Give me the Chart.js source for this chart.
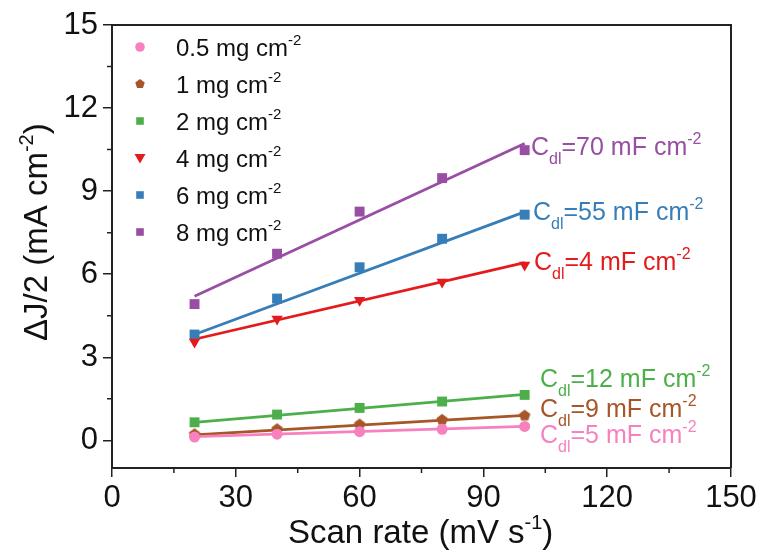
<!DOCTYPE html>
<html><head><meta charset="utf-8">
<script src="https://cdn.jsdelivr.net/npm/chart.js@4.4.0/dist/chart.umd.min.js"></script>
<style>html,body{margin:0;padding:0;background:#fff}#wrap{width:765px;height:556px}</style>
</head><body><div id="wrap"><canvas id="c" width="765" height="556"></canvas></div>
<script>
// ---- data ----
const scanRates = [20, 40, 60, 80, 100];
const loadingLabels = ['0.5', '1', '2', '4', '6', '8'];
const j05 = [0.12, 0.22, 0.31, 0.40, 0.50];
const j1  = [0.22, 0.40, 0.57, 0.74, 0.89];
const j2  = [0.65, 0.93, 1.17, 1.40, 1.64];
const j4  = [3.55, 4.38, 5.06, 5.72, 6.33];
const j6  = [3.82, 5.12, 6.25, 7.28, 8.15];
const j8  = [4.92, 6.74, 8.26, 9.47, 10.48];
const fitX = [20, 100];
const fitStart = [0.13, 0.20, 0.65, 3.65, 3.82, 5.20];
const fitEnd   = [0.50, 0.90, 1.66, 6.42, 8.25, 10.72];
const cdlValues = ['5', '9', '12', '4', '55', '70'];
const xTicks = [0, 30, 60, 90, 120, 150];
const xMinorTicks = [15, 45, 75, 105, 135];
const yTicks = [0, 3, 6, 9, 12, 15];
const yMinorTicks = [1.5, 4.5, 7.5, 10.5, 13.5];

const seriesValues = [j05, j1, j2, j4, j6, j8];
const colors = ['#f781bf', '#a65628', '#4daf4a', '#e41a1c', '#377eb8', '#984ea3'];
const FONT = '"Liberation Sans", Arial, Helvetica, sans-serif';

function pentagon(r, color) {
  const s = Math.ceil(2 * r + 2);
  const c = document.createElement('canvas');
  c.width = s; c.height = s;
  const g = c.getContext('2d');
  g.fillStyle = color;
  g.beginPath();
  for (let i = 0; i < 5; i++) {
    const a = -Math.PI / 2 + i * 2 * Math.PI / 5;
    const px = s / 2 + r * Math.cos(a), py = s / 2 + r * Math.sin(a);
    if (i) g.lineTo(px, py); else g.moveTo(px, py);
  }
  g.closePath(); g.fill();
  return c;
}
const pointStyles = ['circle', pentagon(6, colors[1]), 'rect', 'triangle', 'rect', 'rect'];
const pointRot = [0, 0, 0, 180, 0, 0];
const pointRad = [5.5, 6, 7, 6.5, 7, 7];

const datasets = [];
seriesValues.forEach((vals, i) => {
  datasets.push({
    type: 'line',
    label: 'fit ' + loadingLabels[i],
    data: fitX.map((x, k) => ({ x, y: k === 0 ? fitStart[i] : fitEnd[i] })),
    borderColor: colors[i], borderWidth: 2.8, pointRadius: 0, fill: false, order: 2
  });
  datasets.push({
    type: 'scatter',
    label: loadingLabels[i] + ' mg cm-2',
    data: scanRates.map((x, k) => ({ x, y: vals[k] })),
    backgroundColor: colors[i], borderColor: colors[i], borderWidth: 0,
    pointStyle: pointStyles[i], rotation: pointRot[i], pointRadius: pointRad[i], order: 1
  });
});

function rich(ctx, x, y, parts, color) {
  ctx.save();
  ctx.fillStyle = color; ctx.textBaseline = 'alphabetic'; ctx.textAlign = 'left';
  for (const p of parts) {
    ctx.font = p.s + 'px ' + FONT;
    ctx.fillText(p.t, x, y + (p.dy || 0));
    x += ctx.measureText(p.t).width;
  }
  ctx.restore();
}

function legendMarker(ctx, i, x, y) {
  ctx.save();
  ctx.fillStyle = colors[i];
  ctx.beginPath();
  if (i === 0) { ctx.arc(x, y, 4.8, 0, Math.PI * 2); }
  else if (i === 1) {
    for (let k = 0; k < 5; k++) {
      const a = -Math.PI / 2 + k * 2 * Math.PI / 5;
      const px = x + 5 * Math.cos(a), py = y + 5 * Math.sin(a);
      if (k) ctx.lineTo(px, py); else ctx.moveTo(px, py);
    }
    ctx.closePath();
  } else if (i === 3) {
    ctx.moveTo(x - 5.5, y - 4); ctx.lineTo(x + 5.5, y - 4); ctx.lineTo(x, y + 5.5); ctx.closePath();
  } else { ctx.rect(x - 3.8, y - 3.8, 7.6, 7.6); }
  ctx.fill();
  ctx.restore();
}

const decor = {
  id: 'decor',
  afterDraw(chart) {
    const ctx = chart.ctx, a = chart.chartArea;
    const xs = chart.scales.x, ys = chart.scales.y;
    ctx.save();
    ctx.strokeStyle = '#222'; ctx.lineWidth = 2;
    ctx.beginPath();
    ctx.moveTo(a.left, a.top); ctx.lineTo(a.right, a.top); ctx.lineTo(a.right, a.bottom);
    ctx.stroke();
    ctx.lineWidth = 1.5;
    ctx.beginPath();
    xMinorTicks.forEach(v => { const p = xs.getPixelForValue(v); ctx.moveTo(p, a.bottom); ctx.lineTo(p, a.bottom + 5); });
    yMinorTicks.forEach(v => { const p = ys.getPixelForValue(v); ctx.moveTo(a.left, p); ctx.lineTo(a.left - 5, p); });
    ctx.stroke();
    ctx.restore();

    // legend
    loadingLabels.forEach((lab, i) => {
      const yy = 47 + i * 37;
      legendMarker(ctx, i, 140, yy);
      rich(ctx, 176, yy + 8.5, [{ t: lab + ' mg cm', s: 24 }, { t: '-2', s: 15, dy: -11 }], '#111');
    });

    // annotations
    const ann = [[540, 443], [540, 417], [540, 387], [534, 270], [533, 220], [531, 155]];
    ann.forEach((p, i) => {
      rich(ctx, p[0], p[1], [
        { t: 'C', s: 25 }, { t: 'dl', s: 16, dy: 9 },
        { t: '=' + cdlValues[i] + ' mF cm', s: 25 }, { t: '-2', s: 16, dy: -11 }
      ], colors[i]);
    });

    // axis titles
    rich(ctx, 288, 543, [{ t: 'Scan rate (mV s', s: 33 }, { t: '-1', s: 20, dy: -14 }, { t: ')', s: 33 }], '#111');
    ctx.save();
    ctx.translate(47, 341);
    ctx.rotate(-Math.PI / 2);
    rich(ctx, 0, 0, [{ t: '\u0394J/2 (mA cm', s: 33 }, { t: '-2', s: 20, dy: -14 }, { t: ')', s: 33 }], '#111');
    ctx.restore();
  }
};

new Chart(document.getElementById('c'), {
  data: { datasets },
  options: {
    responsive: false, animation: false, devicePixelRatio: 1,
    layout: { padding: { top: 25, right: 34, left: 0, bottom: 0 } },
    plugins: { legend: { display: false }, tooltip: { enabled: false } },
    scales: {
      x: {
        type: 'linear', min: 0, max: 150,
        afterBuildTicks: s => { s.ticks = xTicks.map(v => ({ value: v })); },
        afterFit: s => { s.height = 88; },
        ticks: { font: { family: FONT, size: 31 }, color: '#111', padding: 3, maxRotation: 0 },
        grid: { drawOnChartArea: false, tickLength: 9, color: '#222', lineWidth: 1.5 },
        border: { color: '#222', width: 2 }
      },
      y: {
        type: 'linear', min: -1, max: 15,
        afterBuildTicks: s => { s.ticks = yTicks.map(v => ({ value: v })); },
        afterFit: s => { s.width = 112; },
        ticks: { font: { family: FONT, size: 31 }, color: '#111', padding: 5 },
        grid: { drawOnChartArea: false, tickLength: 9, color: '#222', lineWidth: 1.5 },
        border: { color: '#222', width: 2 }
      }
    }
  },
  plugins: [decor]
});
</script>
</body></html>
